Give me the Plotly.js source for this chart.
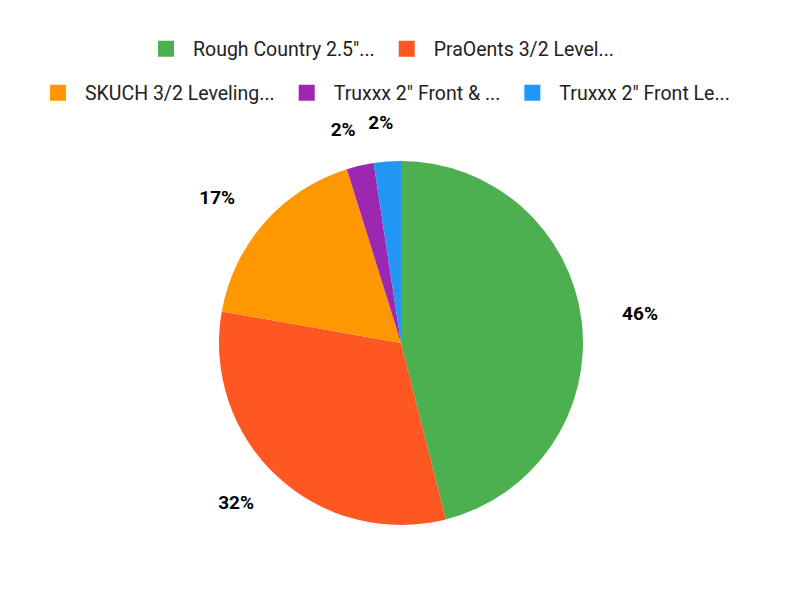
<!DOCTYPE html>
<html>
<head>
<meta charset="utf-8">
<script src="https://cdn.plot.ly/plotly-3.0.1.min.js"></script>
<style>
  body { margin: 0; background: #fff; }
  #chart { width: 800px; height: 600px; }
</style>
</head>
<body>
<div id="chart"></div>
<script>
'use strict';

// slices (share of the whole, in percent)
const labels = [
	'Rough Country 2.5"...',
	'PraOents 3/2 Level...',
	'SKUCH 3/2 Leveling...',
	'Truxxx 2" Front & ...',
	'Truxxx 2" Front Le...'
];
const values = [46.0, 31.7, 17.4, 2.4, 2.4];
const colors = ['#4CAF50', '#FF5722', '#FF9800', '#9C27B0', '#2196F3'];

// which legend row each entry sits on
const legendRow = ['legend', 'legend', 'legend2', 'legend2', 'legend2'];

// small pixel nudges for each % label, [dx, dy]
const labelNudge = [[5, -3], [3, -2], [-1, 0], [8, 4], [14, 2]];

const W = 800, H = 600;
const cx = 401, cy = 343;   // pie centre, px from top-left
const r = 182;              // pie radius
const rText = 212;          // radius the outside labels hang from

function domainFor(rad, dx, dy)
{
	const x0 = cx + (dx || 0), y0 = cy + (dy || 0);
	return {
		x: [(x0 - rad) / W, (x0 + rad) / W],
		y: [(H - y0 - rad) / H, (H - y0 + rad) / H]
	};
}

const pie = {
	type: 'pie',
	labels: labels,
	values: values,
	sort: false,
	direction: 'clockwise',
	rotation: 0,
	marker: { colors: colors, line: { width: 0 } },
	textinfo: 'none',
	hoverinfo: 'label+percent',
	showlegend: false,
	domain: domainFor(r)
};

// the same slices on wider, see-through rings, only to carry the % labels.
// one ring per label so plotly does not push the small ones about
const rings = labels.map(function(name, k) {
	return {
		type: 'pie',
		labels: labels,
		values: values,
		sort: false,
		direction: 'clockwise',
		rotation: 0,
		marker: { colors: labels.map(function() { return 'rgba(0,0,0,0)'; }), line: { width: 0 } },
		texttemplate: '%{percent:.0%}',
		textposition: labels.map(function(l, i) { return i === k ? 'outside' : 'none'; }),
		outsidetextfont: { family: 'Roboto', size: 19, weight: 700, color: '#000000' },
		hoverinfo: 'skip',
		showlegend: false,
		domain: domainFor(rText, labelNudge[k][0], labelNudge[k][1])
	};
});

// legend entries, split over two centred rows
const legendItems = labels.map(function(name, i) {
	return {
		type: 'scatter',
		mode: 'markers',
		x: [null],
		y: [null],
		name: name,
		legend: legendRow[i],
		marker: { symbol: 'square', size: 16, color: colors[i] },
		hoverinfo: 'skip'
	};
});

const legendFont = { family: 'Roboto', size: 19.5, color: '#222222' };

const layout = {
	width: W,
	height: H,
	margin: { l: 0, r: 0, t: 0, b: 0 },
	paper_bgcolor: '#ffffff',
	plot_bgcolor: '#ffffff',
	showlegend: true,
	xaxis: { visible: false, domain: [0, 1] },
	yaxis: { visible: false, domain: [0, 1] },
	legend: {
		orientation: 'h',
		x: 379 / W, xanchor: 'center',
		y: 1 - 49 / H, yanchor: 'middle',
		itemwidth: 44,
		font: legendFont,
		bgcolor: 'rgba(0,0,0,0)'
	},
	legend2: {
		orientation: 'h',
		x: 383 / W, xanchor: 'center',
		y: 1 - 93 / H, yanchor: 'middle',
		itemwidth: 44,
		font: legendFont,
		bgcolor: 'rgba(0,0,0,0)'
	}
};

Plotly.newPlot('chart', [pie].concat(rings, legendItems), layout, { staticPlot: true, displayModeBar: false });
</script>
</body>
</html>
